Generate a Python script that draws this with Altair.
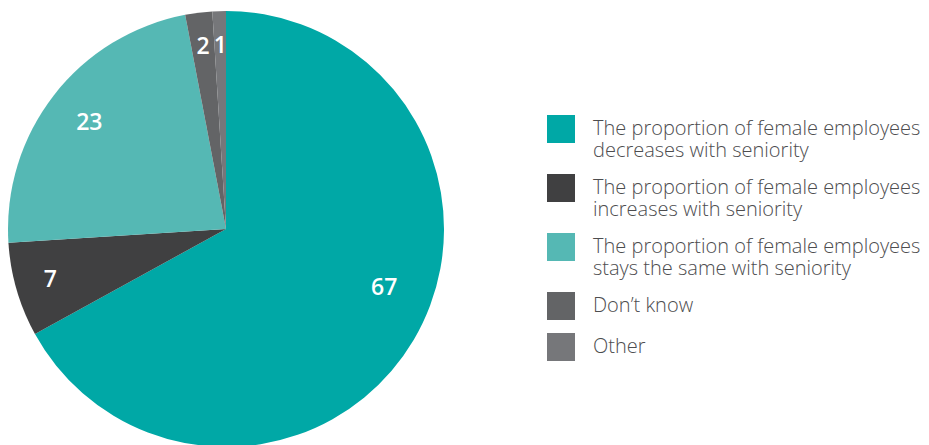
import altair as alt
import pandas as pd

categories = [
    "The proportion of female employees|decreases with seniority",
    "The proportion of female employees|increases with seniority",
    "The proportion of female employees|stays the same with seniority",
    "Don’t know",
    "Other",
]
values = [67, 7, 23, 2, 1]
colors = ["#00A8A6", "#404041", "#55B8B4", "#636466", "#76777A"]

df = pd.DataFrame({"category": categories, "value": values, "order": list(range(len(values)))})

base = alt.Chart(df).encode(
    theta=alt.Theta("value:Q", stack=True),
    order=alt.Order("order:Q"),
)

pie = base.mark_arc(outerRadius=218).encode(
    color=alt.Color(
        "category:N",
        sort=categories,
        scale=alt.Scale(domain=categories, range=colors),
        legend=alt.Legend(
            title=None,
            orient="none",
            legendX=547,
            legendY=115,
            symbolType="square",
            symbolSize=784,
            symbolStrokeWidth=0,
            symbolOpacity=1,
            labelFont="Open Sans",
            labelFontSize=20,
            labelFontWeight=300,
            labelColor="#4d4d4f",
            labelLimit=500,
            labelOffset=18,
            rowPadding=13,
            labelExpr="split(datum.label, '|')",
        ),
    )
)

labels = base.mark_text(
    radius=alt.expr("datum.value > 50 ? 169 : datum.value > 10 ? 173 : 183"),
    thetaOffset=alt.expr("datum.value > 50 ? -0.176 : 0"),
    font="Open Sans", fontSize=23, fontWeight=600, color="white"
).encode(text=alt.Text("value:Q"))

chart = (
    alt.layer(pie, labels)
    .properties(width=452, height=458, padding={"left": 0, "top": 0, "right": 0, "bottom": 0})
    .configure_view(stroke=None)
)

chart.save("out.html", embed_options={"renderer": "svg", "actions": False})
